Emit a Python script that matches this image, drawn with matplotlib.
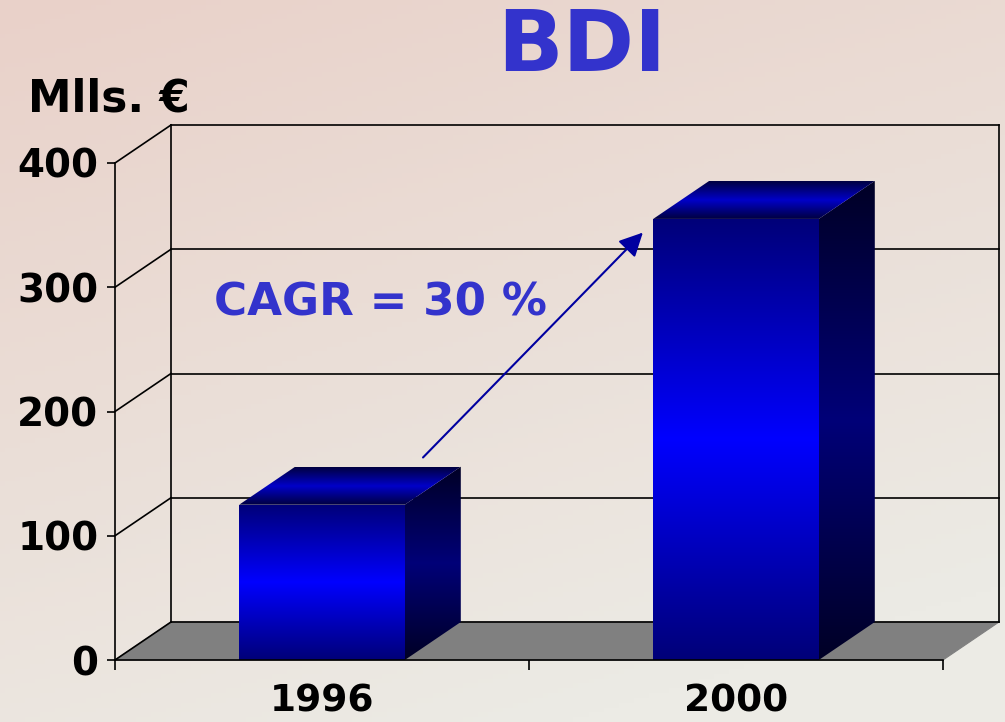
import numpy as np
import matplotlib.pyplot as plt
from matplotlib.patches import Polygon
from matplotlib.colors import to_rgb

categories = ["1996", "2000"]
values = [125, 355]
yticks = [0, 100, 200, 300, 400]
title = "BDI"
unit_label = "Mlls. €"
cagr_label = "CAGR = 30 %"

FONT = "DejaVu Sans"
W, H = 1005, 722
fig = plt.figure(figsize=(W / 100, H / 100), dpi=100)

# background gradient, pink at the top to light grey at the bottom
bg = fig.add_axes([0, 0, 1, 1], zorder=-10)
gx, gy = np.meshgrid(np.linspace(0, 1, 200), np.linspace(0, 1, 150))
t = np.clip(0.8 * gy + 0.35 * gx, 0, 1)[..., None]
c0 = np.array(to_rgb("#e9d1c9"))
c1 = np.array(to_rgb("#ecebe5"))
bg.imshow(c0 * (1 - t) + c1 * t, extent=[0, 1, 0, 1], aspect="auto", origin="upper")
bg.axis("off")

# front plane of the 3d box
x0, y0, x1, y1 = 115, 62, 943, 559
ax = fig.add_axes([x0 / W, y0 / H, (x1 - x0) / W, (y1 - y0) / H])
ax.patch.set_visible(False)
xmin, xmax = -0.5, len(categories) - 0.5
ymin, ymax = 0, 400
ax.set_xlim(xmin, xmax)
ax.set_ylim(ymin, ymax)

# depth offset in data units (56 px right, 38 px up)
DX = 56 / ((x1 - x0) / (xmax - xmin))
DY = 38 / ((y1 - y0) / (ymax - ymin))
lw = 1.2

# floor
ax.add_patch(Polygon([(xmin, 0), (xmax, 0), (xmax + DX, DY), (xmin + DX, DY)],
                     closed=True, facecolor="#808080", edgecolor="#808080",
                     lw=0.8, zorder=1, clip_on=False))
# back wall + gridlines
for v in yticks:
    ax.plot([xmin + DX, xmax + DX], [v + DY, v + DY], color="black", lw=lw,
            zorder=2, clip_on=False)
    ax.plot([xmin, xmin + DX], [v, v + DY], color="black", lw=lw, zorder=2,
            clip_on=False)
for xx in (xmin + DX, xmax + DX):
    ax.plot([xx, xx], [DY, ymax + DY], color="black", lw=lw, zorder=2, clip_on=False)


def gradient(edge, center, n=256):
    s = np.abs(np.linspace(-1, 1, n))[:, None]
    e = np.array(to_rgb(edge))
    c = np.array(to_rgb(center))
    arr = c * (1 - s) + e * s
    return arr[:, None, :]


def shaded(poly_pts, edge, center, zorder):
    poly = Polygon(poly_pts, closed=True, facecolor="none", edgecolor="none")
    ax.add_patch(poly)
    xs = [p[0] for p in poly_pts]
    ys = [p[1] for p in poly_pts]
    im = ax.imshow(gradient(edge, center), extent=[min(xs), max(xs), min(ys), max(ys)],
                   aspect="auto", origin="lower", zorder=zorder, interpolation="bilinear")
    im.set_clip_path(poly)


bw = 0.40
for i, v in enumerate(values):
    l, r = i - bw / 2, i + bw / 2
    # front face
    shaded([(l, 0), (r, 0), (r, v), (l, v)], "#000078", "#0000ff", 5)
    # side face
    shaded([(r, 0), (r + DX, DY), (r + DX, v + DY), (r, v)], "#000025", "#000078", 5)
    # top face
    shaded([(l, v), (r, v), (r + DX, v + DY), (l + DX, v + DY)], "#000040", "#0000c8", 5)

ax.set_xlim(xmin, xmax)
ax.set_ylim(ymin, ymax)

# axes styling
for s in ("top", "right"):
    ax.spines[s].set_visible(False)
for s in ("left", "bottom"):
    ax.spines[s].set_linewidth(lw)
    ax.spines[s].set_zorder(8)
ax.set_yticks(yticks)
ax.set_yticklabels([str(v) for v in yticks], fontsize=28, fontweight="bold", family=FONT)
ax.tick_params(axis="y", direction="out", length=6, width=lw, pad=6)
ax.set_xticks(range(len(categories)))
ax.set_xticklabels(categories, fontsize=27, fontweight="bold", family=FONT)
ax.set_xticks(np.arange(xmin, xmax + 0.01, 1.0), minor=True)
ax.tick_params(axis="x", which="major", length=0, pad=17)
ax.tick_params(axis="x", which="minor", direction="out", length=7, width=lw)

# CAGR annotation
ax.annotate("", xy=(0.775, 344), xytext=(0.244, 163),
            arrowprops=dict(arrowstyle="-|>,head_length=0.6,head_width=0.3",
                            color="#0000a0", lw=1.5, mutation_scale=24,
                            shrinkA=0, shrinkB=0), zorder=9)
ax.text(-0.26, 277, cagr_label, color="#3333cc", fontsize=32.5, fontweight="bold",
        family=FONT, ha="left", va="baseline", zorder=9)

fig.text(0.579, 0.902, title, color="#3333cc", fontsize=62, fontweight="bold",
         family=FONT, ha="center", va="baseline")
fig.text(0.028, 0.845, unit_label, color="black", fontsize=31.5, fontweight="bold",
         family=FONT, ha="left", va="baseline")

fig.savefig("out.png", dpi=100)
